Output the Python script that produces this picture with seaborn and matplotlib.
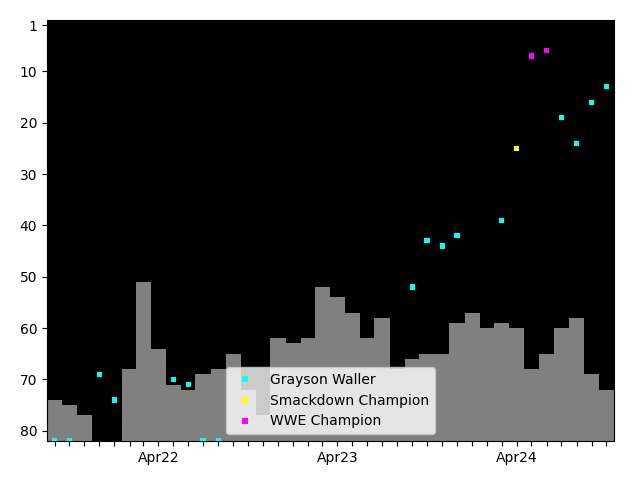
import matplotlib
matplotlib.use("Agg")
import matplotlib.pyplot as plt
import matplotlib.dates as mdates
from matplotlib.ticker import FuncFormatter
import seaborn as sns
import pandas as pd
import numpy as np

# Monthly ranking (bars), Sep 2021 .. Oct 2024
months = pd.date_range("2021-09-01", "2024-10-01", freq="MS")
bar_values = [74, 75, 77, None, None, 68, 51, 64, 71, 72, 69, 68,
              65, 72, 77, 62, 63, 62, 52, 54, 57, 62, 58, 68,
              66, 65, 65, 59, 57, 60, 59, 60, 68, 65, 60, 58,
              69, 72]

# Event points
point_dates = ["2021-09-01", "2021-10-01", "2021-12-01", "2022-01-01",
               "2022-05-01", "2022-06-01", "2022-07-01", "2022-08-01",
               "2023-09-01", "2023-10-01", "2023-11-01", "2023-12-01",
               "2024-03-01", "2024-04-01", "2024-05-01", "2024-06-01",
               "2024-07-01", "2024-08-01", "2024-09-01", "2024-10-01"]
point_values = [82, 82, 69, 74,
                70, 71, 82, 82,
                52, 43, 44, 42,
                39, 25, 7, 6,
                19, 24, 16, 13]
point_labels = ["Grayson Waller"] * 13 + ["Smackdown Champion"] + ["WWE Champion"] * 2 + ["Grayson Waller"] * 4

hue_order = ["Grayson Waller", "Smackdown Champion", "WWE Champion"]
palette = {"Grayson Waller": "cyan", "Smackdown Champion": "yellow", "WWE Champion": "magenta"}
y_bottom = 82
y_ticks = [1, 10, 20, 30, 40, 50, 60, 70, 80]

fig = plt.figure(figsize=(6.4, 4.8), dpi=100)
ax = fig.add_axes([47 / 640, 1 - 441 / 480, (614 - 47) / 640, (441 - 20) / 480])
ax.set_facecolor("black")

bar_df = pd.DataFrame({"month": months, "rank": bar_values}).dropna()
ax.bar(bar_df["month"], y_bottom - bar_df["rank"], bottom=bar_df["rank"],
       width=31, color="gray", align="center", linewidth=0)

pts = pd.DataFrame({"date": pd.to_datetime(point_dates), "rank": point_values, "label": point_labels})
sns.scatterplot(data=pts, x="date", y="rank", hue="label", hue_order=hue_order,
                palette=palette, marker="s", s=14, linewidth=0, ax=ax, zorder=3)

ax.set_ylim(y_bottom, 0)
ax.set_yticks(y_ticks)
ax.set_xlim(months[0] - pd.Timedelta(days=15.5), months[-1] + pd.Timedelta(days=15.5))
ax.xaxis.set_major_locator(mdates.MonthLocator())
ax.xaxis.set_major_formatter(FuncFormatter(
    lambda v, p: mdates.num2date(v).strftime("%b%y") if mdates.num2date(v).month == 4 else ""))
ax.set_xlabel("")
ax.set_ylabel("")

handles, labels = ax.get_legend_handles_labels()
ax.legend(handles, labels, loc="lower center")

fig.savefig("out.png", dpi=100)
